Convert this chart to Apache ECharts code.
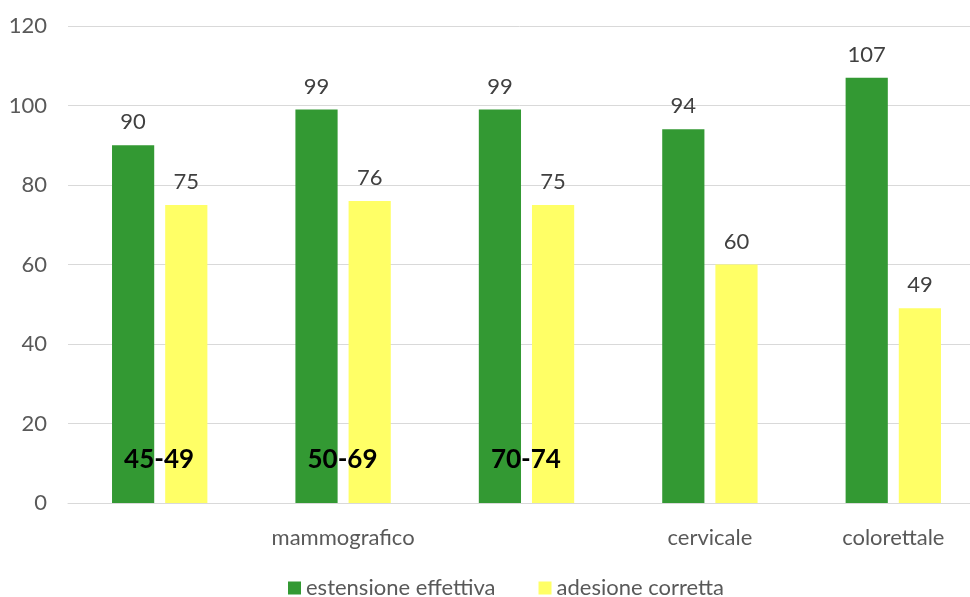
<!DOCTYPE html>
<html>
<head>
<meta charset="utf-8">
<script src="https://cdn.jsdelivr.net/npm/echarts@6/dist/echarts.min.js"></script>
<style>
  html, body { margin: 0; padding: 0; background: #fff; }
  #chart { width: 970px; height: 597px; }
</style>
</head>
<body>
<div id="chart"></div>
<script>
// Screening programmes: effective extension vs. corrected adherence
const categories = ['', 'mammografico', '', 'cervicale', 'colorettale'];
const ageGroups = ['45-49', '50-69', '70-74'];
const ageGroupLabelLevel = 11;
const estensioneEffettiva = [90, 99, 99, 94, 107];
const adesioneCorretta = [75, 76, 75, 60, 49];
const yTicks = { min: 0, max: 120, interval: 20 };

const FONT = 'Lato, "Open Sans", sans-serif';

const chart = echarts.init(document.getElementById('chart'), null, { renderer: 'canvas' });

const valueLabel = {
  show: true,
  position: 'top',
  distance: 12,
  color: '#404040',
  fontSize: 22,
  fontFamily: FONT
};

chart.setOption({
  animation: false,
  textStyle: { fontFamily: FONT },
  // plot area runs slightly past the right edge of the canvas
  grid: { left: 68, width: 917, top: 26, bottom: 94, outerBoundsMode: 'none', containLabel: false },
  legend: {
    left: 283,
    top: 572,
    icon: 'rect',
    itemWidth: 13,
    itemHeight: 13,
    itemGap: 43,
    textStyle: { color: '#595959', fontSize: 22, fontFamily: FONT },
    data: ['estensione effettiva', 'adesione corretta']
  },
  xAxis: {
    type: 'category',
    data: categories,
    axisTick: { show: false },
    axisLine: { lineStyle: { color: '#d9d9d9', width: 1 } },
    axisLabel: { color: '#595959', fontSize: 22, fontFamily: FONT, margin: 24, interval: 0 }
  },
  yAxis: {
    type: 'value',
    min: yTicks.min,
    max: yTicks.max,
    interval: yTicks.interval,
    axisLine: { show: false },
    axisTick: { show: false },
    axisLabel: { color: '#595959', fontSize: 22, fontFamily: FONT, margin: 21 },
    splitLine: { lineStyle: { color: '#d9d9d9', width: 1 } }
  },
  series: [
    {
      name: 'estensione effettiva',
      type: 'bar',
      data: estensioneEffettiva,
      barGap: '26%',
      barCategoryGap: '48%',
      itemStyle: { color: '#339933' },
      label: valueLabel,
      markPoint: {
        symbol: 'rect',
        symbolSize: 1,
        silent: true,
        itemStyle: { color: 'rgba(0,0,0,0)' },
        label: {
          show: true,
          position: 'inside',
          color: '#000',
          fontSize: 26,
          fontWeight: 'bold',
          fontFamily: FONT,
          offset: [26, 0],
          formatter: p => p.name
        },
        data: ageGroups.map((g, i) => ({ name: g, coord: [i, ageGroupLabelLevel] }))
      }
    },
    {
      name: 'adesione corretta',
      type: 'bar',
      data: adesioneCorretta,
      itemStyle: { color: '#ffff66' },
      label: valueLabel
    }
  ]
});
</script>
</body>
</html>
